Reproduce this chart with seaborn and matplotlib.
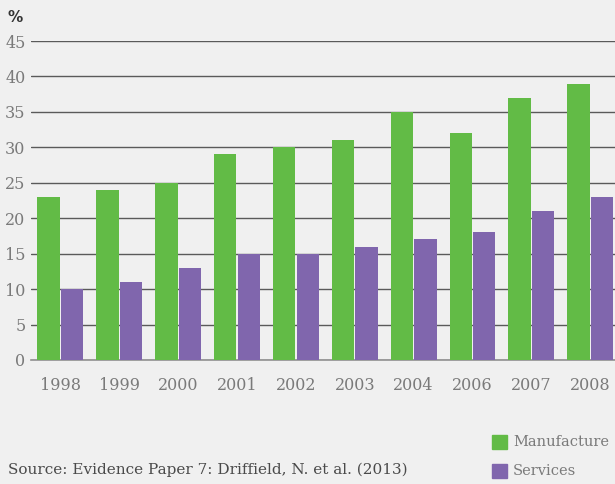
import matplotlib
matplotlib.use("Agg")
import matplotlib.pyplot as plt
import seaborn as sns
import pandas as pd

years = ["1998", "1999", "2000", "2001", "2002", "2003", "2004", "2006", "2007", "2008"]
manufacture = [23, 24, 25, 29, 30, 31, 35, 32, 37, 39]
services = [10, 11, 13, 15, 15, 16, 17, 18, 21, 23]

BG = "#f0f0f0"
GREEN = "#62bb46"
PURPLE = "#8066ad"
TEXT = "#7a7a7a"

df = pd.DataFrame({
    "year": years * 2,
    "value": manufacture + services,
    "series": ["Manufacture"] * len(years) + ["Services"] * len(years),
})

sns.set_style("white")
plt.rcParams["font.family"] = ["DejaVu Serif", "DejaVu Sans"]

fig = plt.figure(figsize=(6.15, 4.84), dpi=100, facecolor=BG)
ax = fig.add_axes([31 / 615, 1 - 360 / 484, 1 - 31 / 615, 319 / 484])
ax.set_facecolor(BG)

sns.barplot(ax=ax, data=df, x="year", y="value", hue="series",
            palette=[GREEN, PURPLE], width=0.8, gap=0.05, saturation=1,
            linewidth=0, legend=False, zorder=3)

ax.set_ylim(0, 45)
ax.set_xlim(-0.5, 9.42)
ax.set_yticks(range(0, 50, 5))
ax.yaxis.grid(True, color="#5a5a5a", linewidth=1.0, zorder=0)
ax.set_axisbelow(True)
for s in ["top", "right", "left"]:
    ax.spines[s].set_visible(False)
ax.spines["bottom"].set_color("#909090")
ax.spines["bottom"].set_linewidth(1.2)
ax.tick_params(axis="y", length=0, pad=4, labelsize=11.5, labelcolor=TEXT)
ax.tick_params(axis="x", length=0, pad=12, labelsize=11.5, labelcolor=TEXT)
ax.set_xlabel("")
ax.set_ylabel("")

fig.text(8 / 615, 1 - 17 / 484, "%", fontsize=11, fontweight="bold",
         color="#333333", family="DejaVu Sans", va="center")
fig.text(8 / 615, 1 - 470 / 484, "Source: Evidence Paper 7: Driffield, N. et al. (2013)",
         fontsize=11, color="#4a4a4a", va="center")

# legend
for i, (name, col) in enumerate([("Manufacture", GREEN), ("Services", PURPLE)]):
    y = 1 - (442 + i * 29) / 484
    fig.patches.append(plt.Rectangle((492 / 615, y - 7 / 484), 15 / 615, 14 / 484,
                                     transform=fig.transFigure, color=col))
    fig.text(513 / 615, y, name, fontsize=10.5, color=TEXT, va="center")

fig.savefig("out.png", dpi=100, facecolor=BG)
